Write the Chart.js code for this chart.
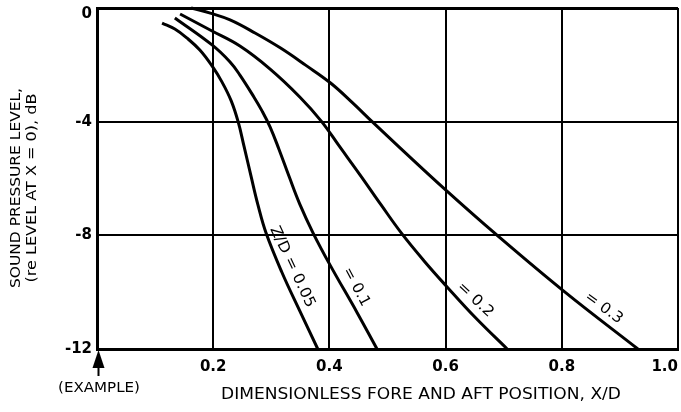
<!DOCTYPE html>
<html>
<head>
<meta charset="utf-8">
<script src="https://cdn.jsdelivr.net/npm/chart.js@4"></script>
<style>
  html, body { margin: 0; padding: 0; background: #fff; }
  #wrap { width: 681px; height: 412px; position: relative; }
</style>
</head>
<body>
<div id="wrap"><canvas id="myChart"></canvas></div>
<script>
// curves: X/D and level in dB
var x005 = [0.112, 0.134, 0.155, 0.177, 0.198, 0.215, 0.231, 0.243, 0.253, 0.265, 0.277, 0.291, 0.318, 0.349, 0.380];
var y005 = [-0.53, -0.74, -1.06, -1.48, -2.04, -2.60, -3.27, -4.01, -4.86, -5.91, -6.93, -7.92, -9.29, -10.66, -12.0];

var x01 = [0.134, 0.198, 0.229, 0.246, 0.270, 0.284, 0.298, 0.313, 0.331, 0.349, 0.372, 0.401, 0.448, 0.482];
var y01 = [-0.35, -1.30, -1.90, -2.36, -3.13, -3.62, -4.19, -4.96, -5.95, -6.90, -7.92, -9.04, -10.73, -12.0];

var x02 = [0.143, 0.198, 0.246, 0.298, 0.349, 0.386, 0.418, 0.453, 0.489, 0.525, 0.563, 0.601, 0.652, 0.706];
var y02 = [-0.21, -0.81, -1.34, -2.15, -3.13, -3.98, -4.89, -5.88, -6.93, -7.95, -8.90, -9.78, -10.91, -12.0];

var x03 = [0.162, 0.195, 0.229, 0.272, 0.316, 0.359, 0.402, 0.440, 0.474, 0.522, 0.600, 0.686, 0.805, 0.931];
var y03 = [0.00, -0.18, -0.42, -0.88, -1.41, -2.01, -2.64, -3.34, -4.01, -4.93, -6.40, -7.95, -9.99, -12.0];

var curveNames = ['Z/D = 0.05', '= 0.1', '= 0.2', '= 0.3'];
var xTicks = [0, 0.2, 0.4, 0.6, 0.8, 1.0];
var yTicks = [0, -4, -8, -12];

var FONT = '"DejaVu Sans", sans-serif';

function pts(xs, ys) {
    return xs.map(function (x, i) { return { x: x, y: ys[i] }; });
}

function curve(xs, ys, name) {
    return {
        label: name,
        data: pts(xs, ys),
        borderColor: '#000',
        borderWidth: 3,
        pointRadius: 0,
        tension: 0.4,
        fill: false,
        clip: false
    };
}

// text drawn at a given width (squeezed or stretched horizontally)
function fitText(c, text, x, y, w) {
    var m = c.measureText(text).width;
    c.save();
    c.translate(x, y);
    c.scale(w / m, 1);
    c.fillText(text, 0, 0);
    c.restore();
}

// label placement on the curves: x, y (data units), angle, width px
var labelPos = [
    [0.336, -9.11, 65, 88],
    [0.446, -9.82, 62, 42],
    [0.651, -10.27, 43, 44],
    [0.872, -10.56, 36, 43]
];

var textPlugin = {
    id: 'texts',
    afterDraw: function (chart) {
        var c = chart.ctx;
        var xs = chart.scales.x, ys = chart.scales.y;
        c.save();
        c.fillStyle = '#000';
        c.textAlign = 'center';
        c.textBaseline = 'middle';

        // y axis title, two lines
        c.font = '14px ' + FONT;
        c.save();
        c.translate(16, 188);
        c.rotate(-Math.PI / 2);
        fitText(c, 'SOUND PRESSURE LEVEL,', 0, 0, 200);
        fitText(c, '(re LEVEL AT X = 0), dB', 0, 16, 189);
        c.restore();

        // x axis title
        c.font = '15px ' + FONT;
        fitText(c, 'DIMENSIONLESS FORE AND AFT POSITION, X/D', 421, 395, 400);

        // example marker under the axis origin
        c.font = '14px ' + FONT;
        fitText(c, '(EXAMPLE)', 99, 388, 82);
        var ax = xs.getPixelForValue(0) + 1.5;
        c.beginPath();
        c.moveTo(ax, 350);
        c.lineTo(ax - 6, 368);
        c.lineTo(ax + 6, 368);
        c.closePath();
        c.fill();
        c.fillRect(ax - 1, 366, 2, 10);

        // curve labels
        c.font = '15px ' + FONT;
        labelPos.forEach(function (p, i) {
            c.save();
            c.translate(xs.getPixelForValue(p[0]), ys.getPixelForValue(p[1]));
            c.rotate(p[2] * Math.PI / 180);
            fitText(c, curveNames[i], 0, 0, p[3]);
            c.restore();
        });
        c.restore();
    }
};

var ctx = document.getElementById('myChart').getContext('2d');
var myChart = new Chart(ctx, {
    type: 'line',
    data: {
        datasets: [
            curve(x005, y005, curveNames[0]),
            curve(x01, y01, curveNames[1]),
            curve(x02, y02, curveNames[2]),
            curve(x03, y03, curveNames[3])
        ]
    },
    options: {
        responsive: true,
        maintainAspectRatio: false,
        animation: false,
        layout: { padding: { top: 8, right: 3, left: 0, bottom: 0 } },
        plugins: {
            legend: { display: false },
            tooltip: { enabled: false }
        },
        scales: {
            x: {
                type: 'linear',
                min: 0,
                max: 1.0,
                afterBuildTicks: function (s) {
                    s.ticks = xTicks.map(function (v) { return { value: v }; });
                },
                afterFit: function (s) {
                    s.height = 63;
                    s.paddingLeft = 0;
                    s.paddingRight = 0;
                },
                ticks: {
                    color: '#000',
                    padding: 9,
                    align: 'inner',
                    maxRotation: 0,
                    font: { family: FONT, size: 15, weight: 'bold' },
                    callback: function (v) { return v === 0 ? '' : v.toFixed(1); }
                },
                grid: { color: '#000', lineWidth: 2, drawTicks: false },
                border: { color: '#000', width: 3 }
            },
            y: {
                min: -12,
                max: 0,
                afterBuildTicks: function (s) {
                    s.ticks = yTicks.map(function (v) { return { value: v }; });
                },
                afterFit: function (s) {
                    s.width = 97;
                    s.paddingTop = 0;
                    s.paddingBottom = 0;
                },
                ticks: {
                    color: '#000',
                    padding: 5,
                    font: { family: FONT, size: 15, weight: 'bold', lineHeight: 0.8 },
                    callback: function (v) { return v === 0 ? ['', '0'] : String(v); }
                },
                grid: {
                    color: '#000',
                    lineWidth: function (c) { return c.tick && c.tick.value === 0 ? 3 : 2; },
                    drawTicks: false
                },
                border: { color: '#000', width: 3 }
            }
        }
    },
    plugins: [textPlugin]
});
</script>
</body>
</html>
